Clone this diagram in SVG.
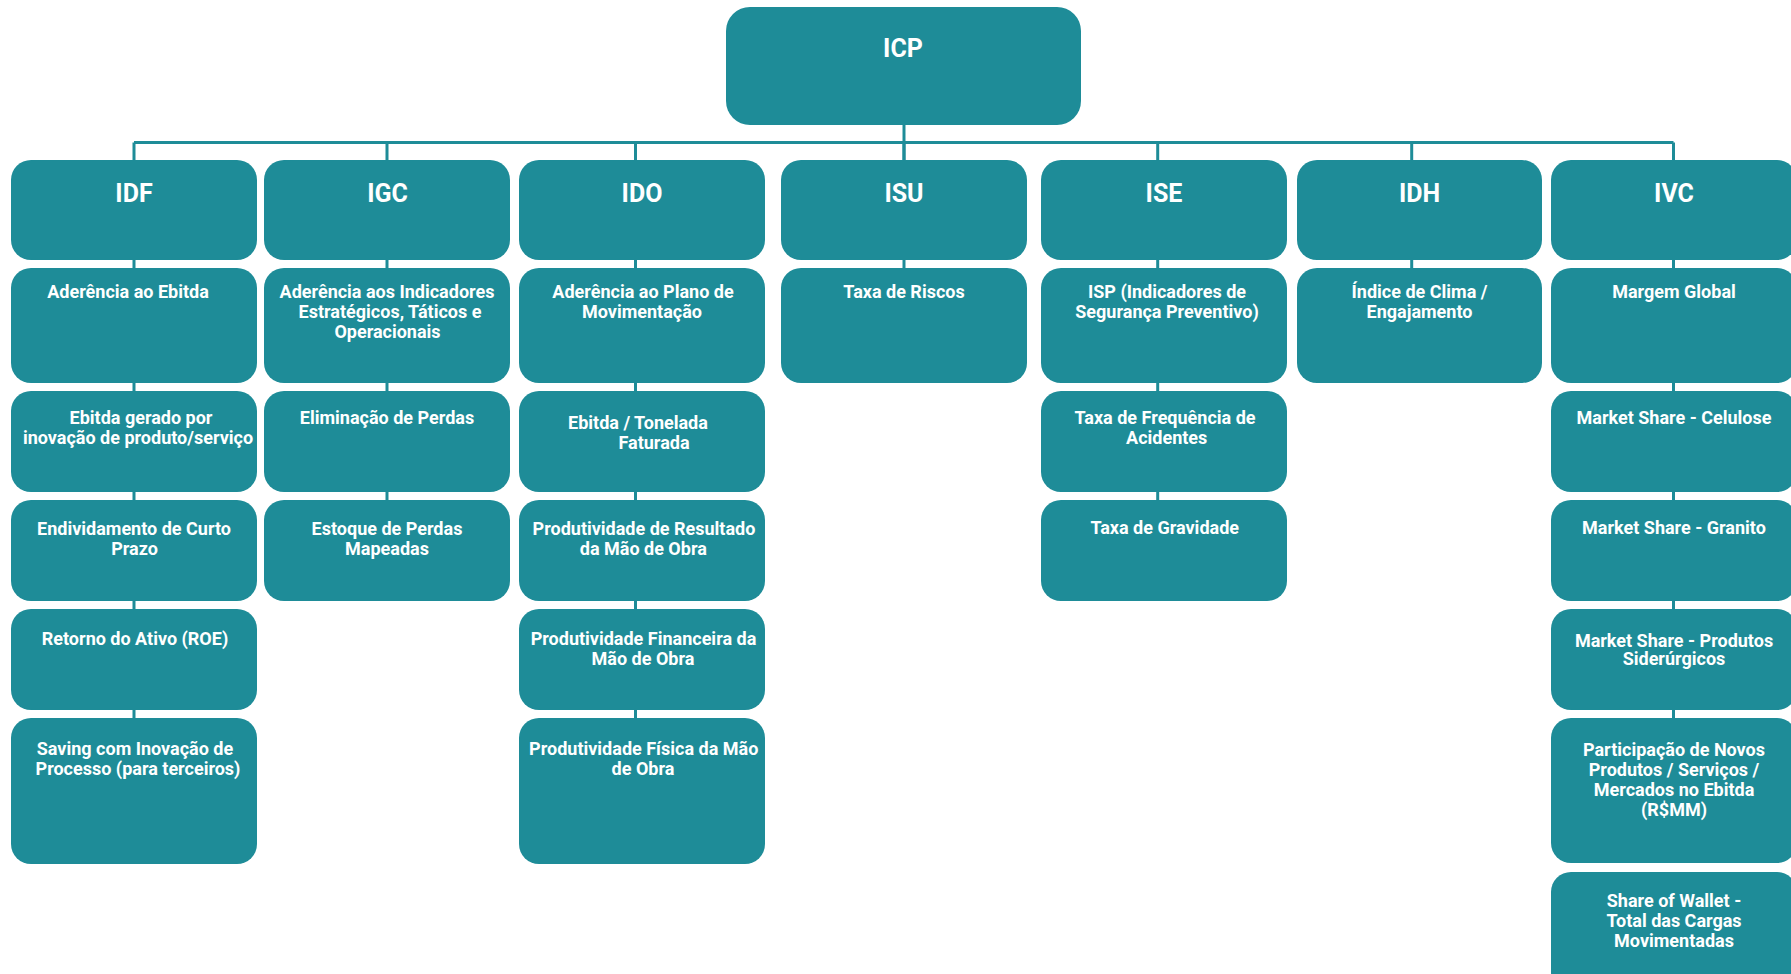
<svg xmlns="http://www.w3.org/2000/svg" width="1791" height="974" viewBox="0 0 1791 974">
<style>
.box{fill:#1e8c98}
.conn{stroke:#1e8c98;stroke-width:3;fill:none}
text{font-family:Roboto,"Liberation Sans",sans-serif;font-weight:bold;fill:#ffffff;text-anchor:middle}
.h{font-size:25px}
.t{font-size:18px}
</style>
<rect width="1791" height="974" fill="#ffffff"/>
<g id="connectors">
<path class="conn" d="M904 120 V165"/>
<path class="conn" d="M134 142.5 H1673.5"/>
<path class="conn" d="M134 142.5 V725"/>
<path class="conn" d="M387 142.5 V505"/>
<path class="conn" d="M635.5 142.5 V725"/>
<path class="conn" d="M904 142.5 V275"/>
<path class="conn" d="M1157.7 142.5 V505"/>
<path class="conn" d="M1411.7 142.5 V275"/>
<path class="conn" d="M1673.5 142.5 V725"/>
</g>
<g id="ICP"><rect class="box" x="726" y="7" width="355" height="118" rx="24"/><text class="h" x="903" y="56.7">ICP</text></g>

<g id="IDF"><rect class="box" x="11" y="160" width="246" height="100" rx="20"/><text class="h" x="134" y="201.7">IDF</text></g>
<g id="IDF1"><rect class="box" x="11" y="268" width="246" height="115" rx="20"/><text class="t" x="128" y="297.7">Aderência ao Ebitda</text></g>
<g id="IDF2"><rect class="box" x="11" y="391" width="246" height="101" rx="20"/><text class="t" x="141" y="424">Ebitda  gerado por</text><text class="t" x="138" y="444">inovação de produto/serviço</text></g>
<g id="IDF3"><rect class="box" x="11" y="500" width="246" height="101" rx="20"/><text class="t" x="134" y="535">Endividamento de Curto</text><text class="t" x="134.5" y="555">Prazo</text></g>
<g id="IDF4"><rect class="box" x="11" y="609" width="246" height="101" rx="20"/><text class="t" x="135" y="645">Retorno do Ativo (ROE)</text></g>
<g id="IDF5"><rect class="box" x="11" y="718" width="246" height="146" rx="20"/><text class="t" x="135" y="755">Saving com Inovação de</text><text class="t" x="138" y="775">Processo (para terceiros)</text></g>

<g id="IGC"><rect class="box" x="264" y="160" width="246" height="100" rx="20"/><text class="h" x="387.5" y="201.7">IGC</text></g>
<g id="IGC1"><rect class="box" x="264" y="268" width="246" height="115" rx="20"/><text class="t" x="387" y="297.7">Aderência aos Indicadores</text><text class="t" x="390" y="317.7">Estratégicos, Táticos e</text><text class="t" x="387.5" y="337.7">Operacionais</text></g>
<g id="IGC2"><rect class="box" x="264" y="391" width="246" height="101" rx="20"/><text class="t" x="387" y="424">Eliminação de Perdas</text></g>
<g id="IGC3"><rect class="box" x="264" y="500" width="246" height="101" rx="20"/><text class="t" x="387" y="535">Estoque de Perdas</text><text class="t" x="387" y="555">Mapeadas</text></g>

<g id="IDO"><rect class="box" x="519" y="160" width="246" height="100" rx="20"/><text class="h" x="642" y="201.7">IDO</text></g>
<g id="IDO1"><rect class="box" x="519" y="268" width="246" height="115" rx="20"/><text class="t" x="643" y="297.7">Aderência ao Plano de</text><text class="t" x="642" y="317.7">Movimentação</text></g>
<g id="IDO2"><rect class="box" x="519" y="391" width="246" height="101" rx="20"/><text class="t" x="638" y="429.3">Ebitda / Tonelada</text><text class="t" x="654" y="449.3">Faturada</text></g>
<g id="IDO3"><rect class="box" x="519" y="500" width="246" height="101" rx="20"/><text class="t" x="644" y="535">Produtividade de Resultado</text><text class="t" x="643.3" y="555">da Mão de Obra</text></g>
<g id="IDO4"><rect class="box" x="519" y="609" width="246" height="101" rx="20"/><text class="t" x="643.5" y="645">Produtividade Financeira da</text><text class="t" x="643" y="665">Mão de Obra</text></g>
<g id="IDO5"><rect class="box" x="519" y="718" width="246" height="146" rx="20"/><text class="t" x="643.7" y="755">Produtividade Física da Mão</text><text class="t" x="643" y="775">de Obra</text></g>

<g id="ISU"><rect class="box" x="781" y="160" width="246" height="100" rx="20"/><text class="h" x="904" y="201.7">ISU</text></g>
<g id="ISU1"><rect class="box" x="781" y="268" width="246" height="115" rx="20"/><text class="t" x="904" y="297.7">Taxa de Riscos</text></g>

<g id="ISE"><rect class="box" x="1041" y="160" width="246" height="100" rx="20"/><text class="h" x="1164" y="201.7">ISE</text></g>
<g id="ISE1"><rect class="box" x="1041" y="268" width="246" height="115" rx="20"/><text class="t" x="1167" y="297.7">ISP (Indicadores de</text><text class="t" x="1167" y="317.7">Segurança Preventivo)</text></g>
<g id="ISE2"><rect class="box" x="1041" y="391" width="246" height="101" rx="20"/><text class="t" x="1165" y="424">Taxa de Frequência de</text><text class="t" x="1166.7" y="444">Acidentes</text></g>
<g id="ISE3"><rect class="box" x="1041" y="500" width="246" height="101" rx="20"/><text class="t" x="1164.7" y="534">Taxa de Gravidade</text></g>

<g id="IDH"><rect class="box" x="1297" y="160" width="245" height="100" rx="20"/><text class="h" x="1419.5" y="201.7">IDH</text></g>
<g id="IDH1"><rect class="box" x="1297" y="268" width="245" height="115" rx="20"/><text class="t" x="1419.5" y="297.7">Índice de Clima /</text><text class="t" x="1419.5" y="317.7">Engajamento</text></g>

<g id="IVC"><rect class="box" x="1551" y="160" width="246" height="100" rx="20"/><text class="h" x="1674" y="201.7">IVC</text></g>
<g id="IVC1"><rect class="box" x="1551" y="268" width="246" height="115" rx="20"/><text class="t" x="1674" y="297.7">Margem Global</text></g>
<g id="IVC2"><rect class="box" x="1551" y="391" width="246" height="101" rx="20"/><text class="t" x="1674" y="424">Market Share - Celulose</text></g>
<g id="IVC3"><rect class="box" x="1551" y="500" width="246" height="101" rx="20"/><text class="t" x="1674" y="534">Market Share - Granito</text></g>
<g id="IVC4"><rect class="box" x="1551" y="609" width="246" height="101" rx="20"/><text class="t" x="1674" y="647">Market Share - Produtos</text><text class="t" x="1674" y="665">Siderúrgicos</text></g>
<g id="IVC5"><rect class="box" x="1551" y="718" width="246" height="145" rx="20"/><text class="t" x="1674" y="755.7">Participação de Novos</text><text class="t" x="1674" y="775.7">Produtos / Serviços /</text><text class="t" x="1674" y="795.7">Mercados no Ebitda</text><text class="t" x="1674" y="815.7">(R$MM)</text></g>
<g id="IVC6"><rect class="box" x="1551" y="872" width="246" height="120" rx="20"/><text class="t" x="1674" y="906.7">Share of Wallet -</text><text class="t" x="1674" y="926.7">Total das Cargas</text><text class="t" x="1674" y="946.7">Movimentadas</text></g>
</svg>
